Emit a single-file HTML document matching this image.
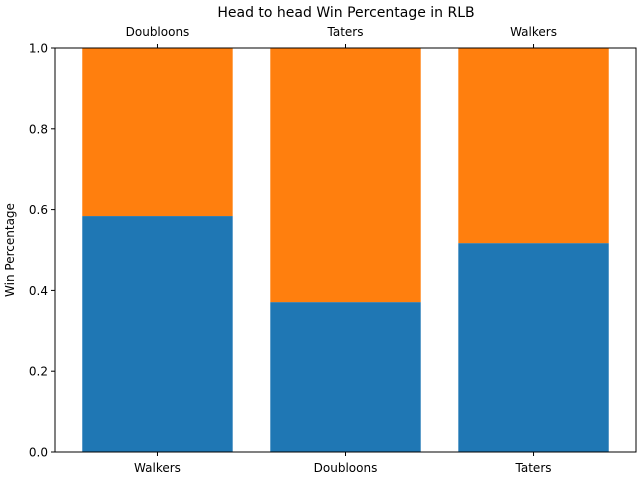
<!DOCTYPE html>
<html><head><meta charset="utf-8"><style>body{margin:0;background:#fff}svg{display:block;font-family:"DejaVu Sans","Liberation Sans",sans-serif}</style></head>
<body>
<svg id="chart" width="640" height="480">
<text x="346" y="17" font-size="14" text-anchor="middle">Head to head Win Percentage in RLB</text>
<text x="14" y="250" font-size="12" text-anchor="middle" transform="rotate(-90 14 250)">Win Percentage</text>
<g id="bars"></g><g id="axes"></g>
</svg>
<script>
const bottomLabels = ["Walkers","Doubloons","Taters"];
const topLabels = ["Doubloons","Taters","Walkers"];
const winValues = [0.584, 0.371, 0.517];
const yTicks = [0.0,0.2,0.4,0.6,0.8,1.0];
const L=55,R=636,T=48,B=452;
const xMin=-0.545,xMax=2.545;
const xs=v=>L+(v-xMin)/(xMax-xMin)*(R-L);
const ys=v=>B-v*(B-T);
const NS="http://www.w3.org/2000/svg";
const bars=document.getElementById('bars'),axes=document.getElementById('axes');
function mk(tag,attrs,parent){const e=document.createElementNS(NS,tag);for(const k in attrs)e.setAttribute(k,attrs[k]);parent.appendChild(e);return e;}
const bw=0.8*(xs(1)-xs(0));
winValues.forEach((v,i)=>{
  const x=xs(i)-bw/2;
  const b=mk('rect',{x:x,y:ys(v),width:bw,height:ys(0)-ys(v),fill:'#1f77b4'},bars);
  
  
  const o=mk('rect',{x:x,y:ys(1),width:bw,height:ys(v)-ys(1),fill:'#ff7f0e'},bars);
  
  
  mk('line',{x1:xs(i),x2:xs(i),y1:B,y2:B+4,stroke:'#000'},axes);
  const bl=mk('text',{x:xs(i),y:B+20,'font-size':12,'text-anchor':'middle'},axes);
  bl.textContent=bottomLabels[i];
  
  
  mk('line',{x1:xs(i),x2:xs(i),y1:T,y2:T-4,stroke:'#000'},axes);
  const tl=mk('text',{x:xs(i),y:T-12,'font-size':12,'text-anchor':'middle'},axes);
  tl.textContent=topLabels[i];
  
  
});
yTicks.forEach(v=>{
  mk('line',{x1:L,x2:L-4,y1:ys(v),y2:ys(v),stroke:'#000'},axes);
  const t=mk('text',{x:L-7,y:ys(v)+4.5,'font-size':12,'text-anchor':'end'},axes);
  t.textContent=v.toFixed(1);
  
  
});
const f=mk('rect',{x:L,y:T,width:R-L,height:B-T,fill:'none',stroke:'#000','stroke-width':1},axes);


</script>
</body></html>
